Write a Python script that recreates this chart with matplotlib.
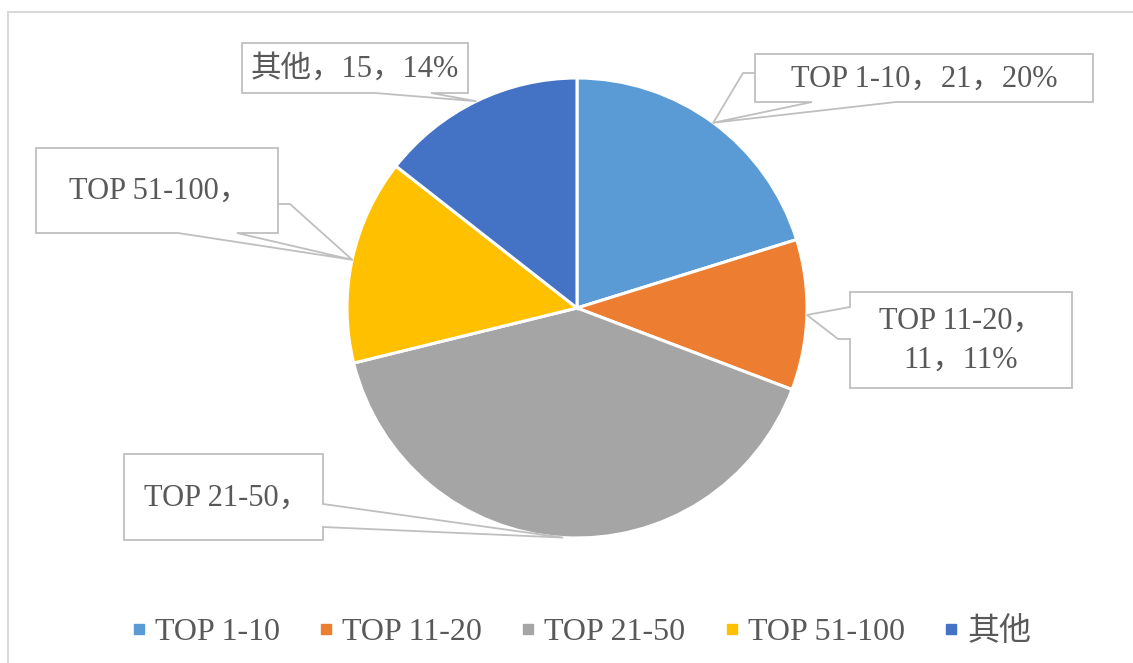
import numpy as np
import matplotlib.pyplot as plt
from matplotlib.patches import Polygon, Rectangle
from matplotlib.lines import Line2D

# datos del grafico
categorias = ['TOP 1-10', 'TOP 11-20', 'TOP 21-50', 'TOP 51-100', '其他']
valores = [21, 11, 42, 15, 15]
etiquetas = ['TOP 1-10，21，20%', 'TOP 11-20，\n11，11%', 'TOP 21-50，', 'TOP 51-100，', '其他，15，14%']
colores = ['#5B9BD5', '#ED7D31', '#A5A5A5', '#FFC000', '#4472C4']

W, H = 1133, 663
fuente = ['Liberation Serif', 'Noto Sans CJK SC']
gris_txt = '#595959'
gris_borde = '#BFBFBF'


def px(x, y):
    # coordenadas de pixel (origen arriba) -> datos
    return (x, H - y)


fig = plt.figure(figsize=(W / 100, H / 100), dpi=100)
ax = fig.add_axes([0, 0, 1, 1])

centro = px(577, 308)
radio = 230
wedges, _ = ax.pie(valores, colors=colores, startangle=90, counterclock=False,
                   center=centro, radius=radio,
                   wedgeprops=dict(edgecolor='white', linewidth=2.2))

ax.set_xlim(0, W)
ax.set_ylim(0, H)
ax.set_aspect('equal')
ax.axis('off')

# marco exterior
ax.add_patch(Rectangle(px(8, 672), W + 20, 660, fill=False, edgecolor='#D9D9D9', linewidth=1.5))

# puntos de anclaje en el borde de cada sector
anclas = []
for w in wedges:
    mid = np.deg2rad((w.theta1 + w.theta2) / 2)
    anclas.append((centro[0] + radio * np.cos(mid), centro[1] + radio * np.sin(mid)))

# cajas de llamada: caja (x0, y0, x1, y1), borde, puntos de la cuna, texto
llamadas = [
    dict(caja=(755, 54, 1093, 102), borde='bottom', cuna=[(896, 102), None, (812, 102)],
         extra=[(755, 73), (743, 73), None], texto=(924, 79, 'center')),
    dict(caja=(850, 292, 1072, 388), borde='left', cuna=[(850, 339), (838, 339), None, (850, 307)],
         extra=None, texto=(961, 341, 'center')),
    dict(caja=(124, 454, 323, 540), borde='right', cuna=[(323, 504), None, (323, 527)],
         extra=None, texto=(144, 498, 'left')),
    dict(caja=(36, 148, 278, 233), borde='bottom', cuna=[(237, 233), None, (178, 233)],
         extra=[(278, 204), (290, 204), None], texto=(69, 191, 'left')),
    dict(caja=(242, 43, 468, 93), borde='bottom', cuna=[(431, 93), None, (375, 93)],
         extra=None, texto=(355, 69, 'center')),
]

for i, ll in enumerate(llamadas):
    x0, y0, x1, y1 = ll['caja']
    a = anclas[i]
    cuna = [px(*p) if p is not None else a for p in ll['cuna']]
    tl, tr, br, bl = px(x0, y0), px(x1, y0), px(x1, y1), px(x0, y1)
    if ll['borde'] == 'bottom':
        pts = [tl, tr, br] + cuna + [bl]
    elif ll['borde'] == 'right':
        pts = [tl, tr] + cuna + [br, bl]
    else:
        pts = [tl, tr, br, bl] + cuna
    ax.add_patch(Polygon(pts, closed=True, facecolor='white', edgecolor=gris_borde,
                         linewidth=1.3, zorder=3))
    if ll['extra']:
        ex = [px(*p) if p is not None else a for p in ll['extra']]
        ax.plot([p[0] for p in ex], [p[1] for p in ex], color=gris_borde, lw=1.3, zorder=3)
    tx, ty, ha = ll['texto']
    ax.text(*px(tx, ty), etiquetas[i], ha=ha, va='center', fontsize=22, color=gris_txt,
            family=fuente, zorder=4, linespacing=1.45)

# leyenda
handles = [Line2D([], [], marker='s', linestyle='none', markersize=7.5,
                  markerfacecolor=c, markeredgecolor=c) for c in colores]
leg = ax.legend(handles, categorias, loc='center', bbox_to_anchor=(581 / W, 1 - 632 / H),
                ncol=5, frameon=False, handlelength=0.5, handletextpad=0.25,
                columnspacing=1.2, prop={'family': fuente, 'size': 23})
for t in leg.get_texts():
    t.set_color(gris_txt)

fig.savefig('out.png', dpi=100, facecolor='white')
